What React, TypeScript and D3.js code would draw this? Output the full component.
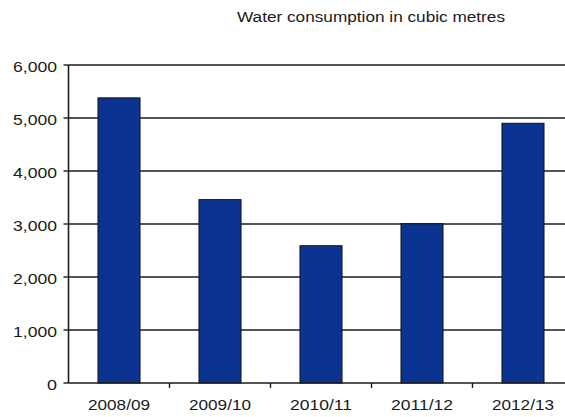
import React from "react";
import * as d3 from "d3";

const categories = ["2008/09", "2009/10", "2010/11", "2011/12", "2012/13"];
const consumption = [5380, 3460, 2590, 3005, 4900];
const yTicks = [0, 1000, 2000, 3000, 4000, 5000, 6000];
const title = "Water consumption in cubic metres";

const W = 565;
const H = 417;
const left = 68.5;
const step = 101;
const top = 65;
const bottom = 383;

export default function App() {
  const x = d3
    .scaleBand<string>()
    .domain(categories)
    .range([left, left + step * categories.length])
    .paddingInner(0.584)
    .paddingOuter(0.292);
  const y = d3.scaleLinear().domain([0, 6000]).range([bottom, top]);
  const fmt = d3.format(",");
  const font = "'Liberation Sans', Arial, sans-serif";

  return (
    <svg
      width={W}
      height={H}
      viewBox={`0 0 ${W} ${H}`}
      style={{ position: "absolute", left: 0, top: 0, background: "#fff" }}
    >
      <rect x={0} y={0} width={W} height={H} fill="#fff" />
      <text
        x={371}
        y={22}
        fontFamily={font}
        fontSize={14}
        fill="#1a1a1a"
        textAnchor="middle"
        textLength={268}
        lengthAdjust="spacingAndGlyphs"
      >
        {title}
      </text>

      {/* gridlines and y ticks */}
      {yTicks.map((t) => (
        <g key={t}>
          {t > 0 && (
            <line x1={left} x2={W} y1={y(t)} y2={y(t)} stroke="#1c1c1c" strokeWidth={1.4} />
          )}
          <line x1={left - 5} x2={left} y1={y(t)} y2={y(t)} stroke="#1c1c1c" strokeWidth={1.4} />
          <text
            x={57}
            y={y(t) + 7}
            fontFamily={font}
            fontSize={15}
            fill="#1a1a1a"
            textAnchor="end"
            textLength={fmt(t).length === 1 ? 10 : 44}
            lengthAdjust="spacingAndGlyphs"
          >
            {fmt(t)}
          </text>
        </g>
      ))}

      {/* bars */}
      {categories.map((c, i) => (
        <rect
          key={c}
          x={x(c)}
          y={y(consumption[i])}
          width={x.bandwidth()}
          height={y(0) - y(consumption[i])}
          fill="#0b3391"
          stroke="#111"
          strokeWidth={1}
        />
      ))}

      {/* axes */}
      <line x1={left} x2={left} y1={top} y2={bottom} stroke="#1c1c1c" strokeWidth={1.6} />
      <line x1={left} x2={W} y1={bottom} y2={bottom} stroke="#1c1c1c" strokeWidth={1.6} />
      {categories.map((c, i) => (
        <line
          key={c}
          x1={left + step * (i + 1)}
          x2={left + step * (i + 1)}
          y1={bottom}
          y2={bottom + 5}
          stroke="#1c1c1c"
          strokeWidth={1.4}
        />
      ))}
      {categories.map((c) => (
        <text
          key={c}
          x={(x(c) ?? 0) + x.bandwidth() / 2}
          y={410}
          fontFamily={font}
          fontSize={15}
          fill="#1a1a1a"
          textAnchor="middle"
          textLength={62}
          lengthAdjust="spacingAndGlyphs"
        >
          {c}
        </text>
      ))}
    </svg>
  );
}
